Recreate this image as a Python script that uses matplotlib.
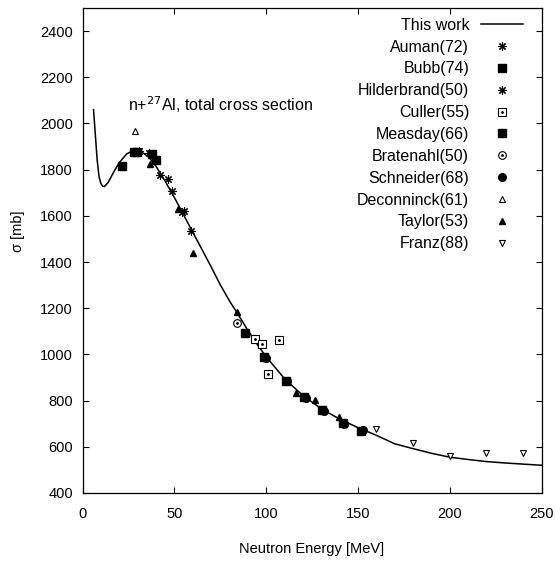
import matplotlib
matplotlib.use('Agg')
import matplotlib.pyplot as plt

plt.rcParams['font.family'] = ['Liberation Sans', 'DejaVu Sans']

# "This work" curve
curve_E = [6, 7, 8, 9, 10, 11, 12, 14, 17, 20, 24, 28, 32, 36, 40, 45, 50, 55, 60, 65,
           70, 75, 80, 85, 90, 95, 100, 110, 120, 130, 140, 150, 160, 170, 180, 190,
           200, 210, 220, 230, 240, 250]
curve_sigma = [2060, 1950, 1840, 1770, 1740, 1728, 1727, 1745, 1790, 1830, 1868, 1885,
               1878, 1855, 1815, 1750, 1680, 1605, 1530, 1455, 1380, 1302, 1232, 1170,
               1105, 1045, 990, 895, 822, 765, 720, 683, 650, 613, 592, 572, 555, 545,
               536, 530, 525, 520]

# experimental data
auman_E = [36, 42, 49, 54, 59]
auman_sigma = [1870, 1778, 1709, 1615, 1536]
bubb_E = [21.5, 28, 29.5, 38, 39.8]
bubb_sigma = [1815, 1876, 1878, 1866, 1840]
hilder_E = [30.5, 38, 46.5, 55.5]
hilder_sigma = [1880, 1862, 1759, 1620]
culler_E = [93.7, 97.5, 101, 107]
culler_sigma = [1065, 1044, 917, 1061]
measday_E = [88.4, 99, 111, 120.5, 130.5, 142, 151.8]
measday_sigma = [1092, 990, 887, 815, 758, 704, 667]
bratenahl_E = [84.2]
bratenahl_sigma = [1137]
schneider_E = [100, 111.5, 121.5, 131.5, 142.5, 152.5]
schneider_sigma = [985, 884, 812, 755, 700, 672]
decon_E = [28.5]
decon_sigma = [1968]
taylor_E = [37, 52, 60.3, 84, 116, 126.4, 139.5]
taylor_sigma = [1824, 1630, 1440, 1183, 833, 802, 730]
franz_E = [160, 180, 200, 220, 240]
franz_sigma = [676, 615, 560, 574, 571]

fig = plt.figure(figsize=(5.56, 5.69), dpi=100)
ax = fig.add_axes([0.1484, 0.1336, 0.8256, 0.8524])

line, = ax.plot(curve_E, curve_sigma, color='black', lw=1.1)

ast = (8, 2, 0)
h_auman, = ax.plot(auman_E, auman_sigma, ls='none', marker=ast, ms=6, mec='black', mew=0.8)
h_bubb, = ax.plot(bubb_E, bubb_sigma, ls='none', marker='s', ms=5.5, color='black')
h_hilder, = ax.plot(hilder_E, hilder_sigma, ls='none', marker=ast, ms=6, mec='black', mew=0.8)
h_culler, = ax.plot(culler_E, culler_sigma, ls='none', marker='s', ms=5.5, mfc='white', mec='black', mew=0.8)
h_culler_dot, = ax.plot(culler_E, culler_sigma, ls='none', marker='o', ms=1, color='black')
h_measday, = ax.plot(measday_E, measday_sigma, ls='none', marker='s', ms=5.5, color='black')
h_brat, = ax.plot(bratenahl_E, bratenahl_sigma, ls='none', marker='o', ms=5.5, mfc='white', mec='black', mew=0.8)
h_brat_dot, = ax.plot(bratenahl_E, bratenahl_sigma, ls='none', marker='o', ms=1, color='black')
h_schn, = ax.plot(schneider_E, schneider_sigma, ls='none', marker='o', ms=5.5, color='black')
h_decon, = ax.plot(decon_E, decon_sigma, ls='none', marker='^', ms=4.5, mfc='white', mec='black', mew=0.8)
h_taylor, = ax.plot(taylor_E, taylor_sigma, ls='none', marker='^', ms=4.5, color='black')
h_franz, = ax.plot(franz_E, franz_sigma, ls='none', marker='v', ms=4.5, mfc='white', mec='black', mew=0.8)

ax.set_xlim(0, 250)
ax.set_ylim(400, 2500)
ax.set_xticks(range(0, 251, 50))
ax.set_yticks(range(400, 2401, 200))
ax.tick_params(direction='in', top=True, right=True, length=4, labelsize=10.5)
ax.tick_params(axis='x', pad=10)
ax.tick_params(axis='y', pad=7)
for s in ax.spines.values():
    s.set_linewidth(0.9)

ax.set_xlabel('Neutron Energy [MeV]', fontsize=10.5, labelpad=15)
ax.set_ylabel('σ [mb]', fontsize=10.5)
ax.yaxis.set_label_coords(-0.125, 0.54)

ax.text(25, 2080, 'n+$^{27}$Al, total cross section', fontsize=11.5, va='center', ha='left')

handles = [line, h_auman, h_bubb, h_hilder, (h_culler, h_culler_dot), h_measday,
           (h_brat, h_brat_dot), h_schn, h_decon, h_taylor, h_franz]
labels = ['This work', 'Auman(72)', 'Bubb(74)', 'Hilderbrand(50)', 'Culler(55)',
          'Measday(66)', 'Bratenahl(50)', 'Schneider(68)', 'Deconninck(61)',
          'Taylor(53)', 'Franz(88)']
ax.legend(handles, labels, loc='upper right', bbox_to_anchor=(0.959, 0.98),
          frameon=False, markerfirst=False, fontsize=11.5, borderpad=0,
          borderaxespad=0, handlelength=2.6, handletextpad=0.75,
          labelspacing=0.43, numpoints=1)

fig.savefig('out.png', dpi=100)
